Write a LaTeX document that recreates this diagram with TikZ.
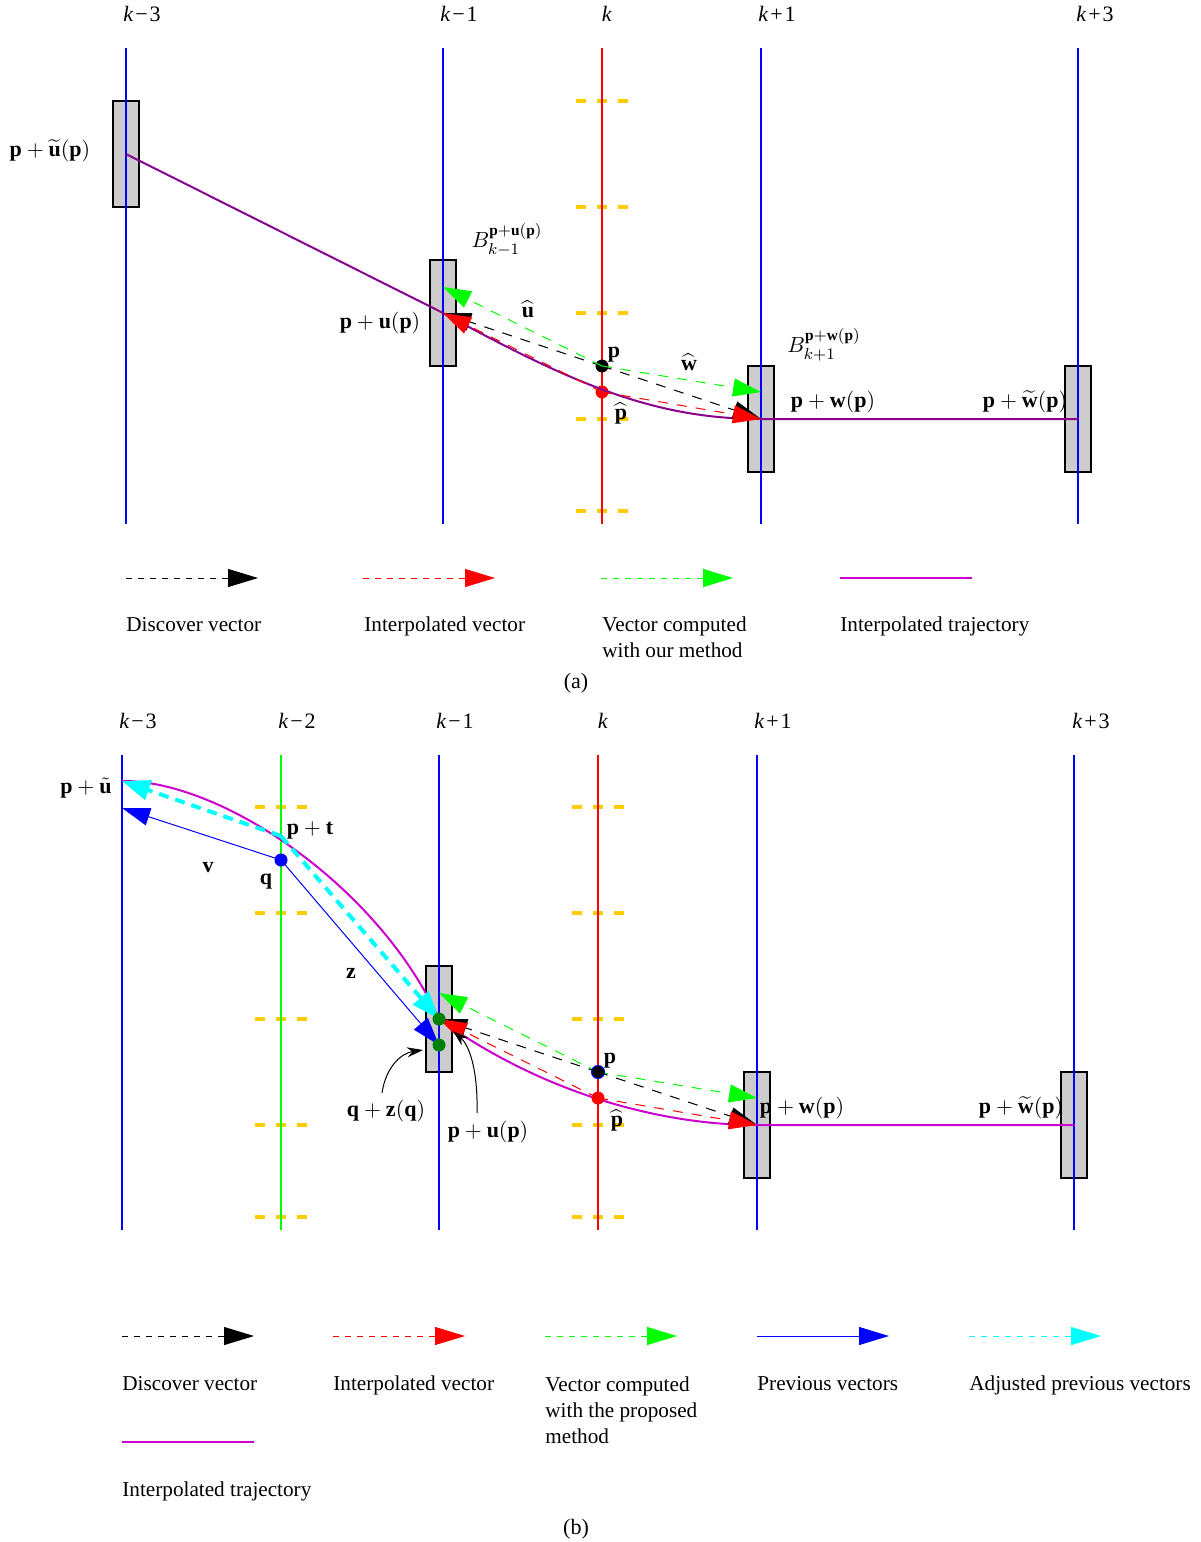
\documentclass[tikz,border=0pt]{standalone}
\usepackage{fontspec}
\setmainfont{Liberation Serif}
\usepackage{amsmath}
\usepackage{tikz}
\usetikzlibrary{arrows.meta}
\definecolor{gold}{RGB}{255,204,0}
\definecolor{trajdark}{RGB}{140,0,140}
\definecolor{trajlight}{RGB}{204,0,204}
\definecolor{boxgray}{RGB}{204,204,204}
\definecolor{dotgreen}{RGB}{0,128,0}
\definecolor{vcyan}{RGB}{0,255,255}
\definecolor{vgreen}{RGB}{0,255,0}
\newcommand{\bv}[1]{\mathbf{#1}}
\newcommand{\klab}[1]{\textit{k}#1}

\begin{document}
\begin{tikzpicture}[
  x=0.5pt, y=-0.5pt,
  frame/.style={line width=1pt},
  box/.style={draw=black, fill=boxgray, line width=0.6pt, minimum width=13pt, minimum height=53pt, inner sep=0pt},
  tick/.style={draw=gold, line width=2pt, dash pattern=on 5pt off 5.5pt},
  traja/.style={draw=trajdark, line width=1pt},
  trajb/.style={draw=trajlight, line width=1pt},
  vec/.style={line width=0.5pt, dash pattern=on 5pt off 4.5pt, -{Triangle[length=14pt,width=9pt]}},
  legvec/.style={line width=0.5pt, dashed, -{Triangle[length=15pt,width=9pt]}},
  prev/.style={blue, line width=0.5pt, -{Triangle[length=14pt,width=9pt]}},
  adj/.style={vcyan, line width=2pt, dash pattern=on 5pt off 3.5pt, -{Triangle[length=14pt,width=10pt]}},
  pt/.style={circle, inner sep=0pt, minimum size=6.5pt},
  note/.style={black, line width=0.5pt, -{Stealth[length=8pt,width=5pt]}},
  lbl/.style={font=\fontsize{11}{13}\selectfont},
  klbl/.style={font=\fontsize{11}{13}\selectfont},
  leg/.style={font=\fontsize{10.6}{13}\selectfont, anchor=base west, align=left, inner sep=0pt}
]
\useasboundingbox (0,0) rectangle (1200,1542);

%%%%%%%%%%%%%%%% panel (a) %%%%%%%%%%%%%%%%
\node[box] (ba1) at (126,154) {};
\node[box] (ba2) at (443,313) {};
\node[box] (ba3) at (761,419) {};
\node[box] (ba4) at (1078,419) {};

\foreach \y in {101,207,313,419,511}
  \draw[tick] (576,\y) -- (628,\y);

\foreach \x/\c/\k/\dx in {126/blue/{\kern0.9pt−\kern0.9pt3}/16, 443/blue/{\kern0.9pt−\kern0.9pt1}/16, 602/red/{}/5, 761/blue/{\kern0.9pt+\kern0.9pt1}/16, 1078/blue/{\kern0.9pt+\kern0.9pt3}/17}{
  \draw[frame, \c] (\x,48) -- (\x,524);
  \node[klbl] at (\x+\dx,14) {\klab{\k}};
}

\coordinate (aP)  at (602,366);
\coordinate (aPh) at (602,392);
\coordinate (aU)  at (443,313);
\coordinate (aW)  at (761,419);
\coordinate (aUg) at (443,287);
\coordinate (aWg) at (761,392);

\node[pt, fill=black] (dotP) at (aP) {};
\node[pt, fill=red] (dotPh) at (aPh) {};

% trajectory
\draw[traja] (126,154) -- (aU) .. controls (573,384) and (655,419) .. (aW) -- (1078,419);

% vectors
\draw[vec, black] (aP) -- (aU);
\draw[vec, black] (aP) -- (aW);
\draw[vec, red] (aPh) -- (aU);
\draw[vec, red] (aPh) -- (aW);
\draw[vec, vgreen] (aP) -- (aUg);
\draw[vec, vgreen] (aP) -- (aWg);

% labels
\node[lbl] (la1) at (50,151) {$\bv{p}+\widetilde{\bv{u}}(\bv{p})$};
\node[lbl] (la2) at (507,240) {$B^{\bv{p}+\bv{u}(\bv{p})}_{k-1}$};
\node[lbl] (la3) at (528,309) {$\widehat{\bv{u}}$};
\node[lbl] (la4) at (380,323) {$\bv{p}+\bv{u}(\bv{p})$};
\node[lbl] (la5) at (614,355) {$\bv{p}$};
\node[lbl] (la6) at (689,362) {$\widehat{\bv{w}}$};
\node[lbl] (la7) at (824,345) {$B^{\bv{p}+\bv{w}(\bv{p})}_{k+1}$};
\node[lbl] (la8) at (621,413) {$\widehat{\bv{p}}$};
\node[lbl] (la9) at (833,402) {$\bv{p}+\bv{w}(\bv{p})$};
\node[lbl] (la10) at (1025,402) {$\bv{p}+\widetilde{\bv{w}}(\bv{p})$};

% Legend
\draw[legvec, black] (126,578) -- (258,578);
\draw[legvec, red] (363,578) -- (495,578);
\draw[legvec, vgreen] (601,578) -- (733,578);
\draw[trajlight, line width=1pt] (840,578) -- (972,578);
\node[leg] at (126,631) {Discover vector};
\node[leg] at (364,631) {Interpolated vector};
\node[leg] at (602,657) {Vector computed\\with our method};
\node[leg] at (840,631) {Interpolated trajectory};
\node[lbl, anchor=base] at (576,688) {(a)};

%%%%%%%%%%%%%%%% panel (b) %%%%%%%%%%%%%%%%
\node[box] (bb1) at (439,1019) {};
\node[box] (bb2) at (757,1125) {};
\node[box] (bb3) at (1074,1125) {};

\foreach \x in {281,598}
  \foreach \y in {807,913,1019,1125,1217}
    \draw[tick] (\x-26,\y) -- (\x+26,\y);

\foreach \x/\c/\k/\dx in {122/blue/{\kern0.9pt−\kern0.9pt3}/16, 281/vgreen/{\kern0.9pt−\kern0.9pt2}/16, 439/blue/{\kern0.9pt−\kern0.9pt1}/16, 598/red/{}/5, 757/blue/{\kern0.9pt+\kern0.9pt1}/16, 1074/blue/{\kern0.9pt+\kern0.9pt3}/17}{
  \draw[frame, \c] (\x,755) -- (\x,1230);
  \node[klbl] at (\x+\dx,721) {\klab{\k}};
}

\coordinate (bP)  at (598,1072);
\coordinate (bPh) at (598,1098);
\coordinate (bU)  at (439,1019);
\coordinate (bW)  at (757,1125);
\coordinate (bUg) at (439,993);
\coordinate (bWg) at (757,1098);
\coordinate (bQ)  at (281,860);
\coordinate (bT)  at (281,836);
\coordinate (bUt) at (122,781);
\coordinate (bV)  at (122,808);
\coordinate (bZ)  at (439,1045);

% trajectory
\draw[trajb] (bUt) .. controls (222,780) and (379,887) .. (bU)
  .. controls (539,1091) and (657,1125) .. (bW) -- (1074,1125);

% previous and adjusted vectors
\draw[prev] (bQ) -- (bV);
\draw[prev] (bQ) -- (bZ);
\draw[adj] (bT) -- (bUt);
\draw[adj] (bT) -- (bU);

% vectors
\draw[vec, black] (bP) -- (bU);
\draw[vec, black] (bP) -- (bW);
\draw[vec, red] (bPh) -- (bU);
\draw[vec, red] (bPh) -- (bW);
\draw[vec, vgreen] (bP) -- (bUg);
\draw[vec, vgreen] (bP) -- (bWg);

\node[pt, fill=blue] (dotQ) at (bQ) {};
\node[pt, fill=dotgreen] (dotU) at (bU) {};
\node[pt, fill=dotgreen] (dotZ) at (bZ) {};
\node[pt, fill=black, draw=blue, line width=0.5pt] (dotbP) at (bP) {};
\node[pt, fill=red] (dotbPh) at (bPh) {};

% labels
\node[lbl] (lb1) at (86,788) {$\bv{p}+\tilde{\bv{u}}$};
\node[lbl] (lb2) at (310,830) {$\bv{p}+\bv{t}$};
\node[lbl] (lb3) at (208,868) {$\bv{v}$};
\node[lbl] (lb4) at (266,882) {$\bv{q}$};
\node[lbl] (lb5) at (351,973) {$\bv{z}$};
\node[lbl] (lb6) at (610,1061) {$\bv{p}$};
\node[lbl] (lb7) at (617,1120) {$\widehat{\bv{p}}$};
\node[lbl] (lb8) at (802,1108) {$\bv{p}+\bv{w}(\bv{p})$};
\node[lbl] (lb9) at (1021,1108) {$\bv{p}+\widetilde{\bv{w}}(\bv{p})$};
\node[lbl] (lb10) at (386,1111) {$\bv{q}+\bv{z}(\bv{q})$};
\node[lbl] (lb11) at (488,1132) {$\bv{p}+\bv{u}(\bv{p})$};

\coordinate (n1e) at (423,1050);
\coordinate (n2e) at (453,1031);
\draw[note] (382,1093) .. controls (386,1066) and (402,1053) .. (n1e);
\draw[note] (477,1113) .. controls (478,1072) and (470,1046) .. (n2e);

% Legend
\draw[legvec, black] (122,1336) -- (254,1336);
\draw[legvec, red] (333,1336) -- (465,1336);
\draw[legvec, vgreen] (545,1336) -- (677,1336);
\draw[prev, -{Triangle[length=15pt,width=9pt]}] (757,1336) -- (889,1336);
\draw[legvec, vcyan] (969,1336) -- (1101,1336);
\draw[trajlight, line width=1pt] (122,1442) -- (254,1442);
\node[leg] at (122,1390) {Discover vector};
\node[leg] at (333,1390) {Interpolated vector};
\node[leg] at (545,1443) {Vector computed\\with the proposed\\method};
\node[leg] at (757,1390) {Previous vectors};
\node[leg] at (969,1390) {Adjusted previous vectors};
\node[leg] at (122,1496) {Interpolated trajectory};
\node[lbl, anchor=base] at (576,1534) {(b)};

\end{tikzpicture}
\end{document}
